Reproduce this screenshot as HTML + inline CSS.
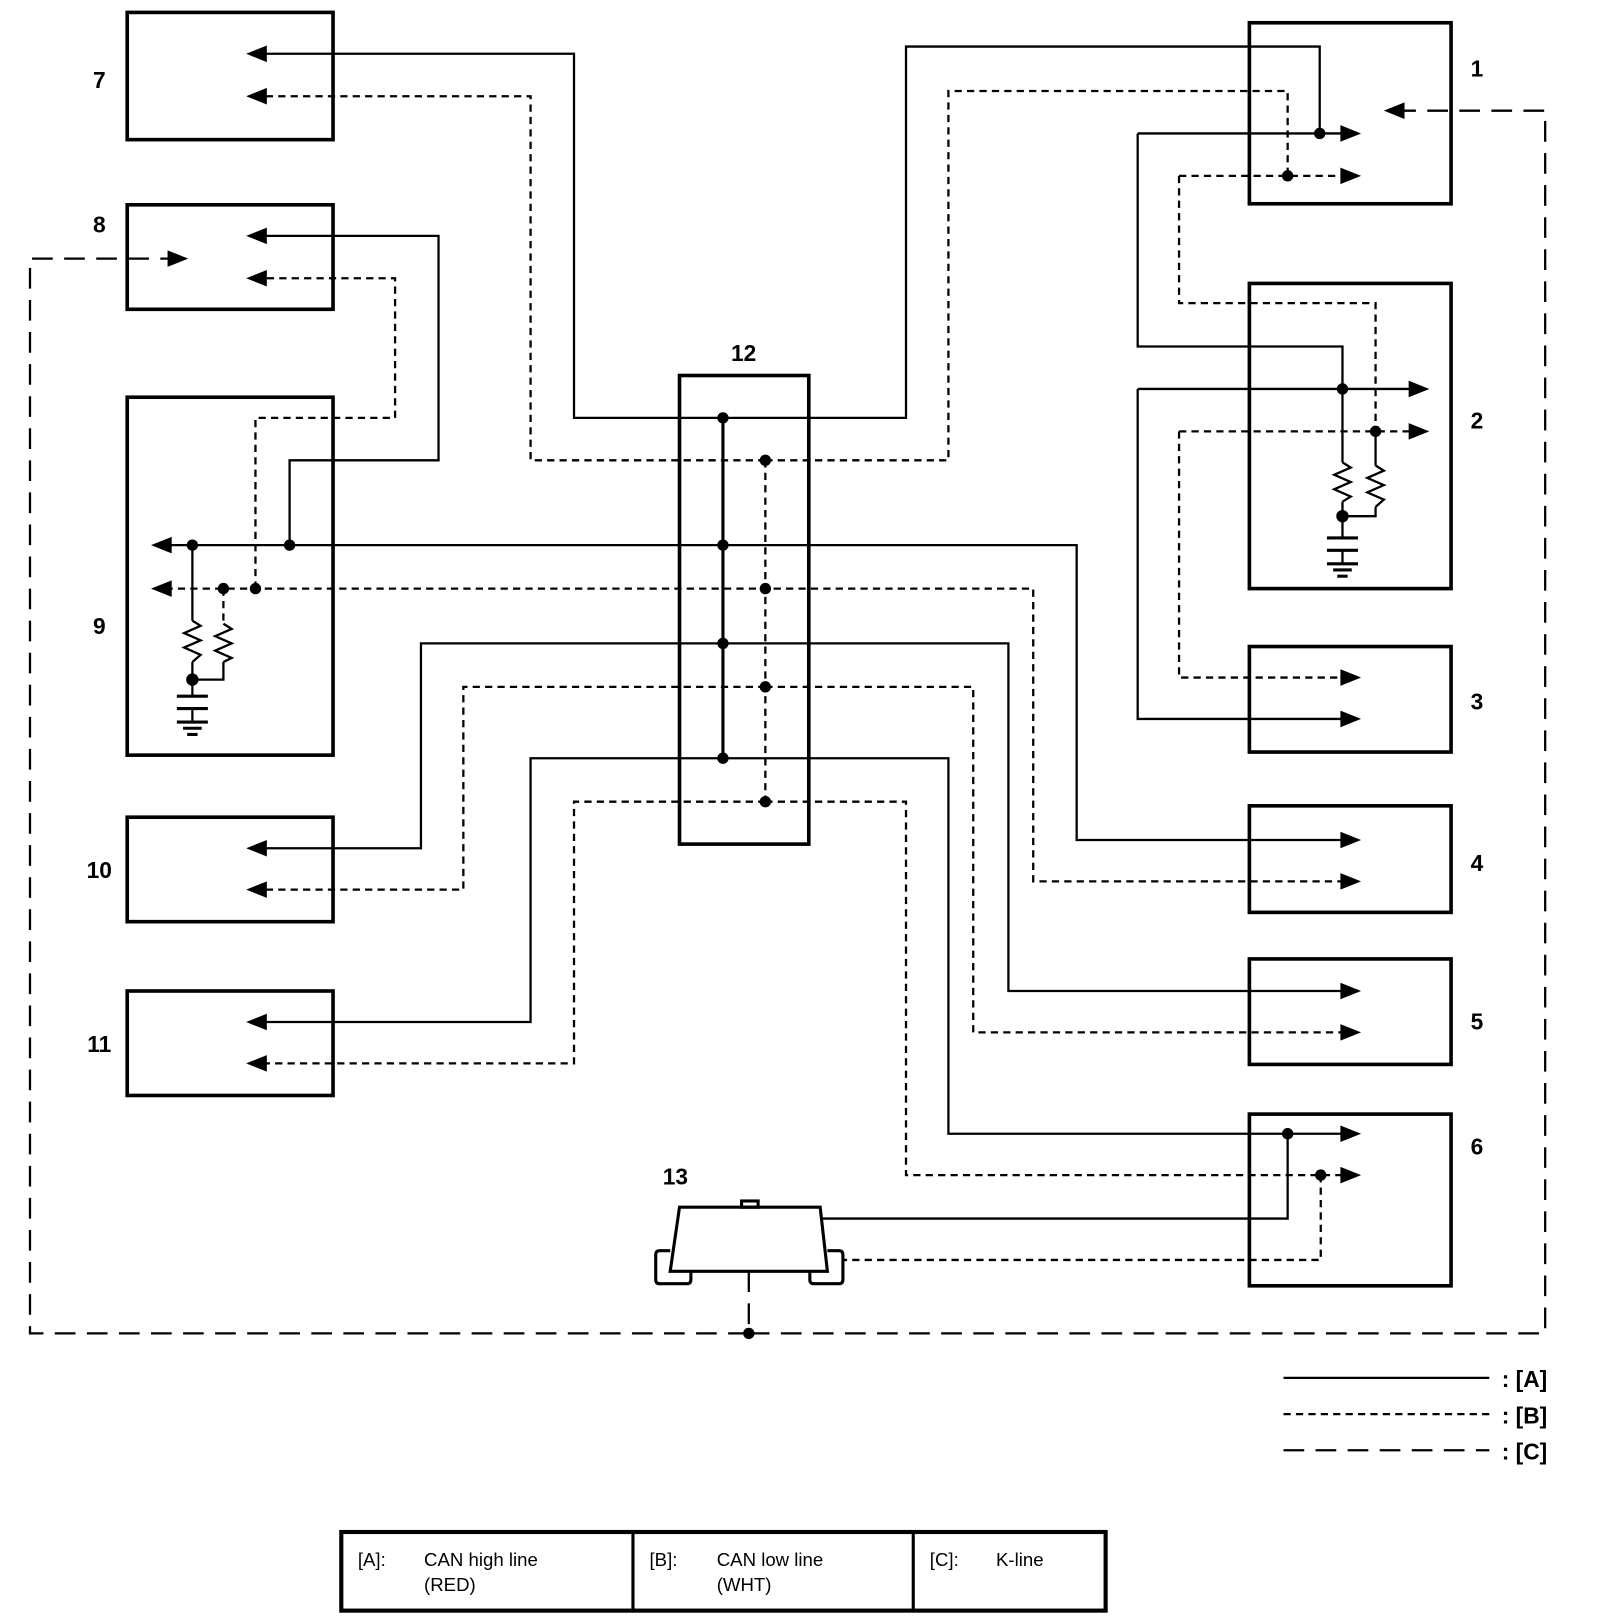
<!DOCTYPE html>
<html><head><meta charset="utf-8"><style>
html,body{margin:0;padding:0;background:#fff;}
svg{display:block;}
text{font-family:"Liberation Sans",sans-serif;}
</style></head><body>
<svg width="1600" height="1622" viewBox="0 0 1547 1568" preserveAspectRatio="none" xmlns="http://www.w3.org/2000/svg">
<defs>
<g id="al"><polygon points="0,0 20,-8 20,8" fill="#000"/></g>
<g id="ar"><polygon points="0,0 -20,-8 -20,8" fill="#000"/></g>
</defs>
<g fill="none" stroke="#000">
<!-- boxes -->
<g stroke-width="3.5">
<rect x="123" y="12" width="199" height="123"/>
<rect x="123" y="198" width="199" height="101"/>
<rect x="123" y="384" width="199" height="346"/>
<rect x="123" y="790" width="199" height="101"/>
<rect x="123" y="958" width="199" height="101"/>
<rect x="657" y="363" width="125" height="453"/>
<rect x="1208" y="22" width="195" height="175"/>
<rect x="1208" y="274" width="195" height="295"/>
<rect x="1208" y="625" width="195" height="102"/>
<rect x="1208" y="779" width="195" height="103"/>
<rect x="1208" y="927" width="195" height="102"/>
<rect x="1208" y="1077" width="195" height="166"/>
</g>
<!-- solid A -->
<g stroke-width="2.2">
<line x1="699" y1="404" x2="699" y2="733" stroke-width="3"/>
<polyline points="699,404 555,404 555,52 250,52"/>
<polyline points="699,404 876,404 876,45 1276,45 1276,129"/>
<polyline points="1100,129 1300,129"/>
<polyline points="1100,129 1100,335 1298,335 1298,447"/>
<polyline points="1100,376 1365,376"/>
<polyline points="1100,376 1100,695 1300,695"/>
<polyline points="1298,485 1298,520"/>
<polyline points="1330,490 1330,499 1298,499"/>
<polyline points="1330,417 1330,450"/>
<polyline points="160,527 1041,527 1041,812 1300,812"/>
<polyline points="280,527 280,445 424,445 424,228 250,228"/>
<polyline points="186,527 186,600"/>
<polyline points="186,640 186,673"/>
<polyline points="216,640 216,657 186,657"/>
<polyline points="699,622 975,622 975,958 1300,958"/>
<polyline points="699,622 407,622 407,820 250,820"/>
<polyline points="699,733 917,733 917,1096 1300,1096"/>
<polyline points="699,733 513,733 513,988 250,988"/>
<polyline points="1245,1096 1245,1178 793,1178"/>
<!-- resistors -->
<polyline points="1298,447 1306,452 1290,459 1306,466 1290,473 1306,480 1298,485"/>
<polyline points="1330,450 1338,455 1322,462 1338,469 1322,476 1338,483 1330,490"/>
<polyline points="186,600 194,605 178,612 194,619 178,626 194,633 186,640"/>
<polyline points="216,603 224,608 208,615 224,622 208,629 224,636 216,640"/>
<!-- grounds -->
<line x1="1283" y1="520" x2="1313" y2="520" stroke-width="3"/>
<line x1="1283" y1="532" x2="1313" y2="532" stroke-width="3"/>
<line x1="1298" y1="532" x2="1298" y2="545"/>
<line x1="1283" y1="545" x2="1313" y2="545" stroke-width="3"/>
<line x1="1289" y1="551" x2="1307" y2="551" stroke-width="3"/>
<line x1="1293" y1="557" x2="1303" y2="557" stroke-width="3"/>
<line x1="171" y1="673" x2="201" y2="673" stroke-width="3"/>
<line x1="171" y1="685" x2="201" y2="685" stroke-width="3"/>
<line x1="186" y1="685" x2="186" y2="698"/>
<line x1="171" y1="698" x2="201" y2="698" stroke-width="3"/>
<line x1="177" y1="704" x2="195" y2="704" stroke-width="3"/>
<line x1="181" y1="710" x2="191" y2="710" stroke-width="3"/>
</g>
<!-- dotted B -->
<g stroke-width="2.2" stroke-dasharray="7,5">
<line x1="740" y1="445" x2="740" y2="775"/>
<polyline points="740,445 513,445 513,93 250,93"/>
<polyline points="740,445 917,445 917,88 1245,88 1245,170"/>
<polyline points="1140,170 1300,170"/>
<polyline points="1140,170 1140,293 1330,293 1330,417"/>
<polyline points="1140,417 1365,417"/>
<polyline points="1140,417 1140,655 1300,655"/>
<polyline points="160,569 999,569 999,852 1300,852"/>
<polyline points="247,569 247,404 382,404 382,269 250,269"/>
<polyline points="216,569 216,603"/>
<polyline points="740,664 941,664 941,998 1300,998"/>
<polyline points="740,664 448,664 448,860 250,860"/>
<polyline points="740,775 876,775 876,1136 1300,1136"/>
<polyline points="740,775 555,775 555,1028 250,1028"/>
<polyline points="1277,1136 1277,1218 815,1218"/>
</g>
<!-- K-line C -->
<g stroke-width="2.2" stroke-dasharray="20,11">
<polyline points="724,1289 29,1289 29,250 165,250"/>
<polyline points="724,1289 1494,1289 1494,107 1355,107"/>
<line x1="724" y1="1229" x2="724" y2="1289"/>
</g>
<!-- connector 13 -->
<g stroke-width="3">
<polygon points="657,1167 793,1167 800,1229 648,1229" fill="#fff"/>
<rect x="717" y="1161" width="16" height="6"/>
<path d="M648,1209 H638 Q634,1209 634,1213 V1237 Q634,1241 638,1241 H664 Q668,1241 668,1237 V1229"/>
<path d="M800,1209 H811 Q815,1209 815,1213 V1237 Q815,1241 811,1241 H787 Q783,1241 783,1237 V1229"/>
</g>
<!-- legend -->
<line x1="1241" y1="1332" x2="1440" y2="1332" stroke-width="2.2"/>
<line x1="1241" y1="1367" x2="1440" y2="1367" stroke-width="2.2" stroke-dasharray="7,5"/>
<line x1="1241" y1="1402" x2="1440" y2="1402" stroke-width="2.2" stroke-dasharray="20,11"/>
<rect x="330" y="1481" width="739" height="76" stroke-width="4"/>
<line x1="612" y1="1481" x2="612" y2="1557" stroke-width="3"/>
<line x1="883" y1="1481" x2="883" y2="1557" stroke-width="3"/>
</g>
<!-- arrows -->
<use href="#al" x="238" y="52"/><use href="#al" x="238" y="93"/>
<use href="#al" x="238" y="228"/><use href="#al" x="238" y="269"/>
<use href="#al" x="146" y="527"/><use href="#al" x="146" y="569"/>
<use href="#al" x="238" y="820"/><use href="#al" x="238" y="860"/>
<use href="#al" x="238" y="988"/><use href="#al" x="238" y="1028"/>
<use href="#al" x="1338" y="107"/>
<use href="#ar" x="182" y="250"/>
<use href="#ar" x="1316" y="129"/><use href="#ar" x="1316" y="170"/>
<use href="#ar" x="1382" y="376"/><use href="#ar" x="1382" y="417"/>
<use href="#ar" x="1316" y="655"/><use href="#ar" x="1316" y="695"/>
<use href="#ar" x="1316" y="812"/><use href="#ar" x="1316" y="852"/>
<use href="#ar" x="1316" y="958"/><use href="#ar" x="1316" y="998"/>
<use href="#ar" x="1316" y="1096"/><use href="#ar" x="1316" y="1136"/>
<!-- nodes -->
<g fill="#000">
<circle cx="699" cy="404" r="5.5"/><circle cx="699" cy="527" r="5.5"/><circle cx="699" cy="622" r="5.5"/><circle cx="699" cy="733" r="5.5"/>
<circle cx="740" cy="445" r="5.5"/><circle cx="740" cy="569" r="5.5"/><circle cx="740" cy="664" r="5.5"/><circle cx="740" cy="775" r="5.5"/>
<circle cx="1276" cy="129" r="5.5"/><circle cx="1245" cy="170" r="5.5"/>
<circle cx="1298" cy="376" r="5.5"/><circle cx="1330" cy="417" r="5.5"/><circle cx="1298" cy="499" r="6"/>
<circle cx="186" cy="527" r="5.5"/><circle cx="280" cy="527" r="5.5"/><circle cx="216" cy="569" r="5.5"/><circle cx="247" cy="569" r="5.5"/><circle cx="186" cy="657" r="6"/>
<circle cx="1245" cy="1096" r="5.5"/><circle cx="1277" cy="1136" r="5.5"/><circle cx="724" cy="1289" r="5.5"/>
</g>
<!-- labels -->
<g font-size="22" font-weight="bold" text-anchor="middle" fill="#000">
<text x="96" y="85">7</text><text x="96" y="225">8</text><text x="96" y="613">9</text>
<text x="96" y="849">10</text><text x="96" y="1017">11</text><text x="719" y="349">12</text>
<text x="653" y="1145">13</text>
<text x="1428" y="74">1</text><text x="1428" y="414">2</text><text x="1428" y="686">3</text>
<text x="1428" y="842">4</text><text x="1428" y="995">5</text><text x="1428" y="1116">6</text>
</g>
<g font-size="22" font-weight="bold" fill="#000">
<text x="1452" y="1341">: [A]</text><text x="1452" y="1376">: [B]</text><text x="1452" y="1411">: [C]</text>
</g>
<g font-size="18" fill="#000">
<text x="346" y="1514">[A]:</text><text x="410" y="1514">CAN high line</text><text x="410" y="1538">(RED)</text>
<text x="628" y="1514">[B]:</text><text x="693" y="1514">CAN low line</text><text x="693" y="1538">(WHT)</text>
<text x="899" y="1514">[C]:</text><text x="963" y="1514">K-line</text>
</g>
</svg>
</body></html>
